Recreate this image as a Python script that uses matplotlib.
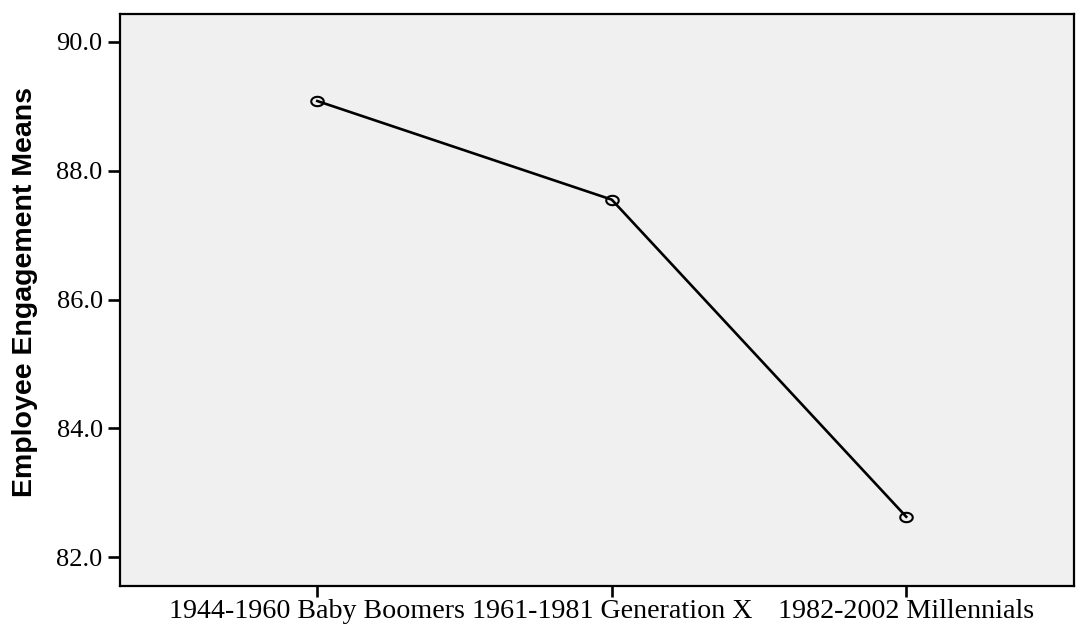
import numpy as np
import matplotlib.pyplot as plt
from matplotlib.path import Path

groups = ['1944-1960 Baby Boomers', '1961-1981 Generation X', '1982-2002 Millennials']
means = [89.08, 87.55, 82.63]
yticks = [82.0, 84.0, 86.0, 88.0, 90.0]

# slightly flattened open circle, like the SPSS marker
t = np.linspace(0, 2 * np.pi, 60)
ellipse = Path(np.column_stack([np.cos(t), 0.75 * np.sin(t)]), closed=True)

fig = plt.figure(figsize=(10.86, 6.26), dpi=100)
ax = fig.add_axes([0.1105, 0.0644, 0.8785, 0.9132])
ax.set_facecolor('#f0f0f0')

x = np.arange(len(groups))
ax.plot(x, means, color='black', lw=1.9, marker=ellipse, ms=9,
        mfc='none', mec='black', mew=1.5)

ax.set_xlim(-0.67, 2.57)
ax.set_ylim(81.56, 90.43)
ax.set_xticks(x)
ax.set_xticklabels(groups, fontfamily='Liberation Serif', fontsize=20.2)
ax.set_yticks(yticks)
ax.set_yticklabels(['%.1f' % v for v in yticks], fontfamily='Liberation Serif', fontsize=19)
ax.tick_params(length=9, width=1.9, color='black')
ax.tick_params(axis='y', pad=3.5)
ax.tick_params(axis='x', length=8, pad=1.5)
for s in ax.spines.values():
    s.set_linewidth(1.6)

ax.set_ylabel('Employee Engagement Means', fontfamily='Liberation Sans',
              fontweight='bold', fontsize=20.5)
ax.yaxis.set_label_coords(-0.086, 0.513)

plt.savefig('out.png', dpi=100)
